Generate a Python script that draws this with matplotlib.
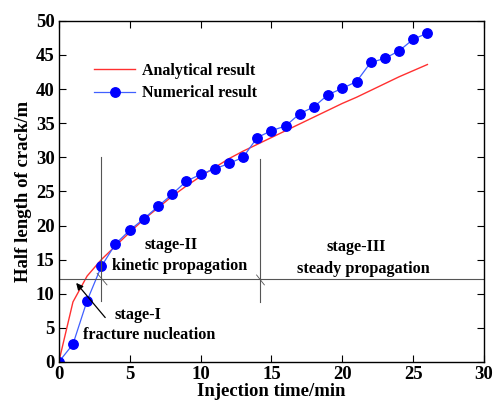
import numpy as np
import matplotlib.pyplot as plt

plt.rcParams['font.family'] = ['Liberation Serif', 'DejaVu Serif']
plt.rcParams['font.weight'] = 'bold'

# tiempo de inyeccion (min)
t = np.arange(0, 27)
# resultado analitico
analitico = [0, 8.8, 12.6, 15.0, 17.0, 19.0, 20.9, 22.6, 24.3, 25.8, 27.2, 28.5,
             29.8, 30.9, 31.9, 32.9, 33.9, 34.9, 35.9, 36.9, 37.9, 38.8, 39.8,
             40.8, 41.8, 42.7, 43.6]
# resultado numerico
numerico = [0, 2.6, 9.0, 14.0, 17.3, 19.3, 21.0, 22.8, 24.6, 26.5, 27.5, 28.3,
            29.1, 30.0, 32.9, 33.9, 34.6, 36.4, 37.4, 39.2, 40.1, 41.1, 43.9,
            44.5, 45.6, 47.3, 48.2]

fig = plt.figure(figsize=(4.94, 4.09), dpi=100)
ax = fig.add_axes([0.119, 0.115, 0.861, 0.834])

ax.plot(t, analitico, color='#ff3030', lw=1.0, label='Analytical result')
ax.plot(t, numerico, color='#4060ff', lw=0.9, marker='o', markersize=6.8,
        markerfacecolor='#0000ff', markeredgecolor='#0000ff', label='Numerical result')

# lineas de division de etapas
ax.axhline(12.2, color='#555555', lw=0.8)
ax.plot([3.0, 3.0], [9.0, 30.0], color='#555555', lw=0.8)
ax.plot([14.2, 14.2], [8.8, 29.8], color='#555555', lw=0.8)
ax.plot([2.7, 3.4], [13.0, 11.3], color='#555555', lw=0.6)
ax.plot([13.95, 14.5], [12.75, 11.3], color='#555555', lw=0.6)

ax.annotate('', xy=(1.1, 11.9), xytext=(3.4, 6.2),
            arrowprops=dict(arrowstyle='-|>', color='black', lw=0.9, mutation_scale=10))

txt = dict(ha='center', va='center', fontsize=11.7, fontweight='bold')
ax.text(7.9, 17.2, 'stage-II', **txt)
ax.text(8.5, 14.1, 'kinetic propagation', **txt)
ax.text(5.6, 6.9, 'stage-I', **txt)
ax.text(6.4, 4.0, 'fracture nucleation', **txt)
ax.text(21.0, 16.9, 'stage-III', **txt)
ax.text(21.5, 13.7, 'steady propagation', **txt)

ax.set_xlim(0, 30)
ax.set_ylim(0, 50)
ax.set_xticks(np.arange(0, 31, 5))
ax.set_yticks(np.arange(0, 51, 5))
ax.tick_params(direction='in', top=True, right=True, length=5, labelsize=13.5, pad=3)
plt.setp(ax.get_xticklabels() + ax.get_yticklabels(), fontweight='bold')
for s in ax.spines.values():
    s.set_linewidth(1.0)

ax.set_xlabel('Injection time/min', fontsize=13.5, fontweight='bold', labelpad=0)
ax.set_ylabel('Half length of crack/m', fontsize=13.5, fontweight='bold', labelpad=3)

leg = ax.legend(loc='upper left', bbox_to_anchor=(0.06, 0.905), frameon=False,
                prop={'size': 11.5, 'weight': 'bold'}, handlelength=2.6,
                handletextpad=0.4, borderaxespad=0.2, labelspacing=0.4)

fig.savefig('out.png', dpi=100)
